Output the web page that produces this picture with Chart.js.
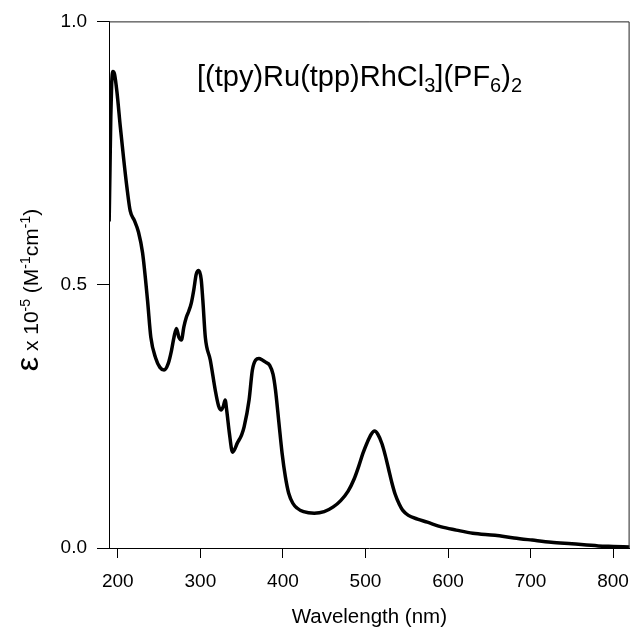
<!DOCTYPE html>
<html>
<head>
<meta charset="utf-8">
<script src="https://cdn.jsdelivr.net/npm/chart.js@4.4.1/dist/chart.umd.min.js"></script>
<style>
  html, body { margin: 0; padding: 0; background: #fff; }
  canvas { display: block; }
</style>
</head>
<body>
<canvas id="myChart" width="641" height="627"></canvas>
<script>
// spectrum (nm, epsilon x 10^-5)
var wavelengths = [189.5, 190.5, 191.5, 192.5, 194, 196, 199, 203, 207, 211, 215, 220, 225, 230, 236, 240, 246, 251, 256, 261, 265, 268, 271, 274, 277, 280, 283, 286, 289, 292, 295, 298, 301, 303, 306, 312, 318, 322, 325, 328, 330, 332, 335, 339, 345, 350, 353, 359, 363, 367, 371, 375, 379, 384, 388, 391, 395, 399, 403, 407, 412, 417, 425, 438, 450, 461, 470, 479, 486, 492, 497, 502, 507, 511, 515, 520, 524, 528, 532, 536, 541, 545, 552, 563, 575, 592, 610, 630, 657, 680, 702, 725, 750, 782, 800, 820];
var epsilon = [0.62, 0.72, 0.82, 0.88, 0.905, 0.90, 0.865, 0.80, 0.74, 0.685, 0.64, 0.622, 0.60, 0.56, 0.47, 0.40, 0.36, 0.343, 0.338, 0.35, 0.375, 0.40, 0.417, 0.40, 0.395, 0.42, 0.438, 0.45, 0.465, 0.49, 0.52, 0.527, 0.51, 0.47, 0.40, 0.357, 0.30, 0.27, 0.262, 0.27, 0.281, 0.26, 0.22, 0.182, 0.20, 0.215, 0.23, 0.281, 0.338, 0.357, 0.36, 0.357, 0.353, 0.347, 0.33, 0.30, 0.24, 0.18, 0.135, 0.104, 0.085, 0.076, 0.069, 0.066, 0.069, 0.078, 0.09, 0.108, 0.130, 0.156, 0.180, 0.200, 0.216, 0.222, 0.216, 0.198, 0.176, 0.150, 0.124, 0.102, 0.083, 0.072, 0.062, 0.055, 0.049, 0.04, 0.034, 0.028, 0.024, 0.019, 0.015, 0.011, 0.008, 0.004, 0.003, 0.002];

var xTicks = [200, 300, 400, 500, 600, 700, 800];
var yTicks = [0, 0.5, 1];
var xTitle = 'Wavelength (nm)';
// [text, kind] kind 1 = sub/superscript, 2 = large symbol
var compoundParts = [['[(tpy)Ru(tpp)RhCl', 0], ['3', 1], ['](PF', 0], ['6', 1], [')', 0], ['2', 1]];
var yTitleParts = [['\u03b5', 2], [' x 10', 0], ['-5', 1], [' (M', 0], ['-1', 1], ['cm', 0], ['-1', 1], [')', 0]];

var points = [];
for (var i = 0; i < wavelengths.length; i++) {
    points.push({x: wavelengths[i], y: epsilon[i]});
}

var FONT = '"Liberation Sans", Arial, Helvetica, sans-serif';

function partFont(kind, base) {
    if (kind == 1) return Math.round(base * 0.68) + 'px ' + FONT;
    if (kind == 2) return Math.round(base * 1.5) + 'px ' + FONT;
    return base + 'px ' + FONT;
}

function measureParts(ctx, parts, base) {
    var w = 0;
    for (var i = 0; i < parts.length; i++) {
        ctx.font = partFont(parts[i][1], base);
        w += ctx.measureText(parts[i][0]).width;
    }
    return w;
}

// draws text pieces one after another, shift = baseline offset for kind 1
function drawParts(ctx, parts, base, x, y, shift) {
    for (var i = 0; i < parts.length; i++) {
        ctx.font = partFont(parts[i][1], base);
        var dy = parts[i][1] == 1 ? shift : 0;
        ctx.fillText(parts[i][0], x, y + dy);
        x += ctx.measureText(parts[i][0]).width;
    }
}

var extras = {
    id: 'extras',
    afterDraw: function(chart) {
        var ctx = chart.ctx;
        var a = chart.chartArea;
        ctx.save();
        // top and right frame
        ctx.strokeStyle = '#222';
        ctx.lineWidth = 1;
        ctx.beginPath();
        ctx.moveTo(a.left, a.top + 0.5);
        ctx.lineTo(a.right - 0.5, a.top + 0.5);
        ctx.lineTo(a.right - 0.5, a.bottom);
        ctx.stroke();

        ctx.fillStyle = '#000';
        ctx.textAlign = 'left';
        ctx.textBaseline = 'alphabetic';

        // compound label
        drawParts(ctx, compoundParts, 29, 197, 86, 6);

        // x title
        ctx.font = '20.5px ' + FONT;
        ctx.textAlign = 'center';
        ctx.textBaseline = 'middle';
        ctx.fillText(xTitle, (a.left + a.right) / 2, 617);

        // y title, rotated
        ctx.textAlign = 'left';
        ctx.textBaseline = 'alphabetic';
        ctx.translate(31, 290);
        ctx.rotate(-Math.PI / 2);
        var w = measureParts(ctx, yTitleParts, 21);
        drawParts(ctx, yTitleParts, 21, -w / 2, 7, -8);
        ctx.restore();
    }
};

new Chart(document.getElementById('myChart'), {
    type: 'line',
    data: {
        datasets: [{
            data: points,
            borderColor: '#000',
            borderWidth: 3.5,
            pointRadius: 0,
            fill: false,
            cubicInterpolationMode: 'monotone'
        }]
    },
    options: {
        responsive: false,
        animation: false,
        layout: { padding: { top: 21, right: 2, left: 0, bottom: 0 } },
        plugins: {
            legend: { display: false },
            tooltip: { enabled: false }
        },
        scales: {
            x: {
                type: 'linear',
                min: 189.3,
                max: 820,
                afterBuildTicks: function(scale) {
                    scale.ticks = xTicks.map(function(v) { return {value: v}; });
                },
                afterFit: function(scale) { scale.height = 79; },
                ticks: {
                    color: '#000',
                    padding: 12,
                    maxRotation: 0,
                    font: { family: FONT, size: 19 },
                    callback: function(v) { return String(v); }
                },
                grid: {
                    drawOnChartArea: false,
                    drawTicks: true,
                    tickLength: 10,
                    tickColor: '#000'
                },
                border: { color: '#000', width: 1 }
            },
            y: {
                min: 0,
                max: 1,
                afterBuildTicks: function(scale) {
                    scale.ticks = yTicks.map(function(v) { return {value: v}; });
                },
                afterFit: function(scale) { scale.width = 109; },
                ticks: {
                    color: '#000',
                    padding: 10,
                    font: { family: FONT, size: 19 },
                    callback: function(v) { return v.toFixed(1); }
                },
                grid: {
                    drawOnChartArea: false,
                    drawTicks: true,
                    tickLength: 12,
                    tickColor: '#000'
                },
                border: { color: '#000', width: 1 }
            }
        }
    },
    plugins: [extras]
});
</script>
</body>
</html>
